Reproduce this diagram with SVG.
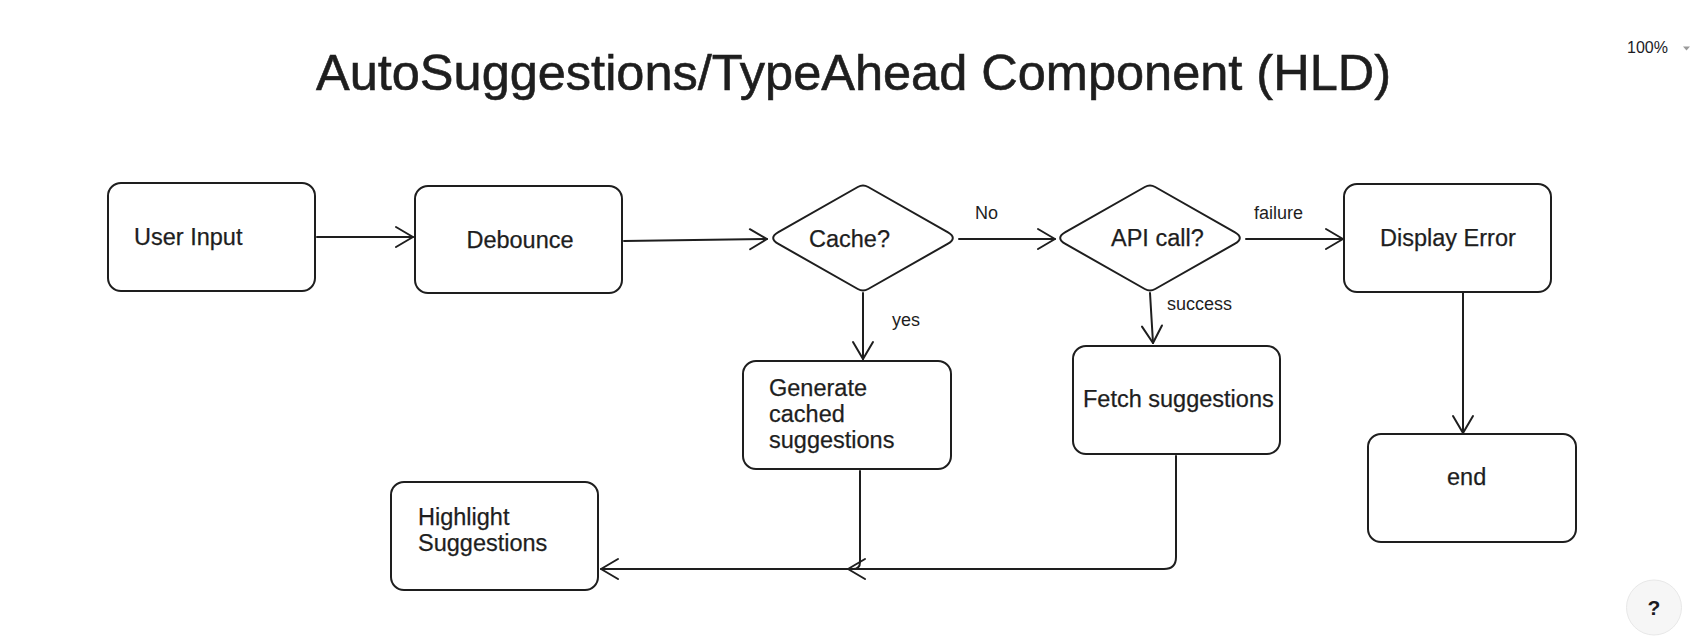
<svg xmlns="http://www.w3.org/2000/svg" width="1704" height="643" viewBox="0 0 1704 643">
  <style>
    .box { fill: #ffffff; stroke: #1e1e1e; stroke-width: 2; }
    .conn { fill: none; stroke: #1e1e1e; stroke-width: 2; stroke-linecap: round; stroke-linejoin: round; }
    .t { font-family: "Liberation Sans", Arial, Helvetica, sans-serif; font-size: 23.5px; fill: #1e1e1e; stroke: #1e1e1e; stroke-width: 0.25; }
    .lbl { font-family: "Liberation Sans", Arial, Helvetica, sans-serif; font-size: 18px; fill: #1e1e1e; }
    .title { font-family: "Liberation Sans", Arial, Helvetica, sans-serif; font-size: 50.5px; fill: #1e1e1e; stroke: #1e1e1e; stroke-width: 0.6; }
    .ui { font-family: "Liberation Sans", Arial, Helvetica, sans-serif; font-size: 16px; fill: #1b1b1f; }
  </style>
  <defs>
    <path id="diamond" d="M5.2,-51 L84.6,-5.9 Q95,0 84.6,5.9 L5.2,51 Q0,54 -5.2,51 L-84.6,5.9 Q-95,0 -84.6,-5.9 L-5.2,-51 Q0,-54 5.2,-51 Z"/>
    <marker id="arrow" markerUnits="userSpaceOnUse" viewBox="-20 -12 22 24" markerWidth="22" markerHeight="24" refX="0" refY="0" orient="auto">
      <path d="M-17,-10 L0,0 L-17,10" fill="none" stroke="#1e1e1e" stroke-width="2" stroke-linecap="round" stroke-linejoin="round"/>
    </marker>
  </defs>
  <rect width="1704" height="643" fill="#ffffff"/>

  <text class="title" x="316" y="90" textLength="1075" lengthAdjust="spacingAndGlyphs">AutoSuggestions/TypeAhead Component (HLD)</text>

  <g id="zoom-indicator">
    <text class="ui" x="1627" y="52.5">100%</text>
    <path d="M1683,46.5 L1690,46.5 L1686.5,50.5 Z" fill="#9a9a9a"/>
  </g>

  <g id="connectors">
    <path class="conn" d="M317,237 L413,237" marker-end="url(#arrow)"/>
    <path class="conn" d="M624,241 L767,239" marker-end="url(#arrow)"/>
    <path class="conn" d="M959,239 L1055,239" marker-end="url(#arrow)"/>
    <path class="conn" d="M1246,239 L1343,239" marker-end="url(#arrow)"/>
    <path class="conn" d="M863,293 L863,359" marker-end="url(#arrow)"/>
    <path class="conn" d="M1150,293 L1153,343" marker-end="url(#arrow)"/>
    <path class="conn" d="M1463,293 L1463,433" marker-end="url(#arrow)"/>
    <path class="conn" d="M860,471 L860,562 Q860,569 853,569 L848,569" marker-end="url(#arrow)"/>
    <path class="conn" d="M1176,456 L1176,557 Q1176,569 1164,569 L601,569" marker-end="url(#arrow)"/>
    <text class="lbl" x="975" y="218.5">No</text>
    <text class="lbl" x="1254" y="219">failure</text>
    <text class="lbl" x="892" y="325.5">yes</text>
    <text class="lbl" x="1167" y="309.5">success</text>
  </g>

  <g id="user-input">
    <rect class="box" x="108" y="183" width="207" height="108" rx="13"/>
    <text class="t" x="134" y="245">User Input</text>
  </g>

  <g id="debounce">
    <rect class="box" x="415" y="186" width="207" height="107" rx="13"/>
    <text class="t" x="520" y="248" text-anchor="middle">Debounce</text>
  </g>

  <g id="cache">
    <use href="#diamond" x="863" y="238" class="box"/>
    <text class="t" x="809" y="247">Cache?</text>
  </g>

  <g id="api-call">
    <use href="#diamond" x="1150" y="238" class="box"/>
    <text class="t" x="1111" y="246">API call?</text>
  </g>

  <g id="display-error">
    <rect class="box" x="1344" y="184" width="207" height="108" rx="13"/>
    <text class="t" x="1380" y="246">Display Error</text>
  </g>

  <g id="generate-cached">
    <rect class="box" x="743" y="361" width="208" height="108" rx="13"/>
    <text class="t" x="769" y="396">Generate</text>
    <text class="t" x="769" y="422">cached</text>
    <text class="t" x="769" y="448">suggestions</text>
  </g>

  <g id="fetch-suggestions">
    <rect class="box" x="1073" y="346" width="207" height="108" rx="13"/>
    <text class="t" x="1083" y="407">Fetch suggestions</text>
  </g>

  <g id="end">
    <rect class="box" x="1368" y="434" width="208" height="108" rx="13"/>
    <text class="t" x="1447" y="485">end</text>
  </g>

  <g id="highlight-suggestions">
    <rect class="box" x="391" y="482" width="207" height="108" rx="13"/>
    <text class="t" x="418" y="525">Highlight</text>
    <text class="t" x="418" y="551">Suggestions</text>
  </g>

  <g id="help-button">
    <circle cx="1654" cy="607.5" r="27.5" fill="#f6f6f6" stroke="#e8e8e8" stroke-width="1"/>
    <text x="1654" y="615" text-anchor="middle" font-family="'Liberation Sans', Arial, sans-serif" font-size="21" font-weight="bold" fill="#1b1b1f">?</text>
  </g>
</svg>
